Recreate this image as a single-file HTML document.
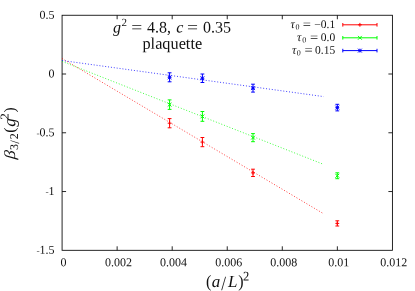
<!DOCTYPE html>
<html><head><meta charset="utf-8"><title>plot</title>
<style>html,body{margin:0;padding:0;background:#fff;}svg{display:block;will-change:transform;}text{font-family:"Liberation Serif",serif;fill:#111;}</style></head>
<body>
<svg width="415" height="291" viewBox="0 0 415 291">
<rect width="415" height="291" fill="#fff"/>
<g stroke="#000" stroke-width="0.85" fill="none">
<rect x="62.08" y="15.25" width="330.32" height="235.05"/>
<path d="M117.13 250.3 v-4 M117.13 15.25 v4"/>
<path d="M172.19 250.3 v-4 M172.19 15.25 v4"/>
<path d="M227.24 250.3 v-4 M227.24 15.25 v4"/>
<path d="M282.29 250.3 v-4 M282.29 15.25 v4"/>
<path d="M337.35 250.3 v-4 M337.35 15.25 v4"/>
<path d="M62.08 74.01 h4 M392.4 74.01 h-4"/>
<path d="M62.08 132.78 h4 M392.4 132.78 h-4"/>
<path d="M62.08 191.54 h4 M392.4 191.54 h-4"/>
</g>
<text transform="translate(54.60,18.65) rotate(0.05)" font-size="12px" text-anchor="end">0.5</text>
<text transform="translate(54.60,77.41) rotate(0.05)" font-size="12px" text-anchor="end">0</text>
<text transform="translate(54.60,136.18) rotate(0.05)" font-size="12px" text-anchor="end"><tspan font-size="9.5px">-</tspan>0.5</text>
<text transform="translate(54.60,194.94) rotate(0.05)" font-size="12px" text-anchor="end"><tspan font-size="9.5px">-</tspan>1</text>
<text transform="translate(54.60,253.70) rotate(0.05)" font-size="12px" text-anchor="end"><tspan font-size="9.5px">-</tspan>1.5</text>
<text transform="translate(63.48,266.20) rotate(0.05)" font-size="12px" text-anchor="middle">0</text>
<text transform="translate(118.53,266.20) rotate(0.05)" font-size="12px" text-anchor="middle">0.002</text>
<text transform="translate(173.59,266.20) rotate(0.05)" font-size="12px" text-anchor="middle">0.004</text>
<text transform="translate(228.64,266.20) rotate(0.05)" font-size="12px" text-anchor="middle">0.006</text>
<text transform="translate(283.69,266.20) rotate(0.05)" font-size="12px" text-anchor="middle">0.008</text>
<text transform="translate(338.75,266.20) rotate(0.05)" font-size="12px" text-anchor="middle">0.01</text>
<text transform="translate(393.80,266.20) rotate(0.05)" font-size="12px" text-anchor="middle">0.012</text>
<line x1="62.08" y1="58.5" x2="323.7" y2="213.8" stroke="#ff0000" stroke-width="0.75" stroke-dasharray="1.0 1.9" fill="none"/>
<line x1="62.08" y1="61.4" x2="323.7" y2="164.4" stroke="#00ff00" stroke-width="0.75" stroke-dasharray="1.0 1.9" fill="none"/>
<line x1="62.08" y1="60.5" x2="323.7" y2="96.6" stroke="#0000ff" stroke-width="0.75" stroke-dasharray="1.0 1.9" fill="none"/>
<path d="M169.6 118.60 V127.80 M167.7 118.60 h3.8 M167.7 127.80 h3.8" stroke="#ff0000" stroke-width="1" fill="none"/>
<path d="M167.70 123.20 h3.8 M169.60 121.30 v3.8 " stroke="#ff0000" stroke-width="1" fill="none"/>
<path d="M202.4 137.50 V146.70 M200.5 137.50 h3.8 M200.5 146.70 h3.8" stroke="#ff0000" stroke-width="1" fill="none"/>
<path d="M200.50 142.10 h3.8 M202.40 140.20 v3.8 " stroke="#ff0000" stroke-width="1" fill="none"/>
<path d="M253 169.20 V176.50 M251.1 169.20 h3.8 M251.1 176.50 h3.8" stroke="#ff0000" stroke-width="1" fill="none"/>
<path d="M251.10 172.85 h3.8 M253.00 170.95 v3.8 " stroke="#ff0000" stroke-width="1" fill="none"/>
<path d="M337.3 220.80 V226.00 M335.40000000000003 220.80 h3.8 M335.40000000000003 226.00 h3.8" stroke="#ff0000" stroke-width="1" fill="none"/>
<path d="M335.40 223.40 h3.8 M337.30 221.50 v3.8 " stroke="#ff0000" stroke-width="1" fill="none"/>
<path d="M169.6 99.90 V109.40 M167.7 99.90 h3.8 M167.7 109.40 h3.8" stroke="#00ff00" stroke-width="1" fill="none"/>
<path d="M167.70 102.75 l3.8 3.8 M167.70 106.55 l3.8 -3.8 " stroke="#00ff00" stroke-width="1" fill="none"/>
<path d="M202.4 111.50 V121.30 M200.5 111.50 h3.8 M200.5 121.30 h3.8" stroke="#00ff00" stroke-width="1" fill="none"/>
<path d="M200.50 114.50 l3.8 3.8 M200.50 118.30 l3.8 -3.8 " stroke="#00ff00" stroke-width="1" fill="none"/>
<path d="M253 133.60 V141.70 M251.1 133.60 h3.8 M251.1 141.70 h3.8" stroke="#00ff00" stroke-width="1" fill="none"/>
<path d="M251.10 135.75 l3.8 3.8 M251.10 139.55 l3.8 -3.8 " stroke="#00ff00" stroke-width="1" fill="none"/>
<path d="M337.3 172.80 V178.70 M335.40000000000003 172.80 h3.8 M335.40000000000003 178.70 h3.8" stroke="#00ff00" stroke-width="1" fill="none"/>
<path d="M335.40 173.85 l3.8 3.8 M335.40 177.65 l3.8 -3.8 " stroke="#00ff00" stroke-width="1" fill="none"/>
<path d="M169.6 72.80 V81.80 M167.7 72.80 h3.8 M167.7 81.80 h3.8" stroke="#0000ff" stroke-width="1" fill="none"/>
<path d="M167.70 77.30 h3.8 M169.60 75.40 v3.8 M167.70 75.40 l3.8 3.8 M167.70 79.20 l3.8 -3.8 " stroke="#0000ff" stroke-width="1" fill="none"/>
<path d="M202.4 74.00 V82.50 M200.5 74.00 h3.8 M200.5 82.50 h3.8" stroke="#0000ff" stroke-width="1" fill="none"/>
<path d="M200.50 78.25 h3.8 M202.40 76.35 v3.8 M200.50 76.35 l3.8 3.8 M200.50 80.15 l3.8 -3.8 " stroke="#0000ff" stroke-width="1" fill="none"/>
<path d="M253 84.20 V92.10 M251.1 84.20 h3.8 M251.1 92.10 h3.8" stroke="#0000ff" stroke-width="1" fill="none"/>
<path d="M251.10 88.15 h3.8 M253.00 86.25 v3.8 M251.10 86.25 l3.8 3.8 M251.10 90.05 l3.8 -3.8 " stroke="#0000ff" stroke-width="1" fill="none"/>
<path d="M337.3 104.30 V110.90 M335.40000000000003 104.30 h3.8 M335.40000000000003 110.90 h3.8" stroke="#0000ff" stroke-width="1" fill="none"/>
<path d="M335.40 107.60 h3.8 M337.30 105.70 v3.8 M335.40 105.70 l3.8 3.8 M335.40 109.50 l3.8 -3.8 " stroke="#0000ff" stroke-width="1" fill="none"/>
<path d="M342.8 24.8 H377 M342.8 23.0 v3.6 M377 23.0 v3.6" stroke="#ff0000" stroke-width="1" fill="none"/>
<path d="M358.00 24.80 h3.8 M359.90 22.90 v3.8 " stroke="#ff0000" stroke-width="1" fill="none"/>
<text transform="translate(290.40,28.00) rotate(0.05)" font-size="12px" font-style="italic">τ</text>
<text transform="translate(295.40,29.60) rotate(0.05)" font-size="8px">0</text>
<text transform="translate(302.65,28.00) rotate(0.05) scale(1.26,1)" font-size="11.5px">=</text>
<text transform="translate(335.20,28.00) rotate(0.05)" font-size="11.5px" text-anchor="end">−0.1</text>
<path d="M342.8 37.8 H377 M342.8 36.0 v3.6 M377 36.0 v3.6" stroke="#00ff00" stroke-width="1" fill="none"/>
<path d="M358.00 35.90 l3.8 3.8 M358.00 39.70 l3.8 -3.8 " stroke="#00ff00" stroke-width="1" fill="none"/>
<text transform="translate(296.90,41.00) rotate(0.05)" font-size="12px" font-style="italic">τ</text>
<text transform="translate(302.20,42.60) rotate(0.05)" font-size="8px">0</text>
<text transform="translate(309.95,41.00) rotate(0.05) scale(1.26,1)" font-size="11.5px">=</text>
<text transform="translate(335.20,41.00) rotate(0.05)" font-size="11.5px" text-anchor="end">0.0</text>
<path d="M342.8 50.6 H377 M342.8 48.800000000000004 v3.6 M377 48.800000000000004 v3.6" stroke="#0000ff" stroke-width="1" fill="none"/>
<path d="M358.00 50.60 h3.8 M359.90 48.70 v3.8 M358.00 48.70 l3.8 3.8 M358.00 52.50 l3.8 -3.8 " stroke="#0000ff" stroke-width="1" fill="none"/>
<text transform="translate(291.90,53.80) rotate(0.05)" font-size="12px" font-style="italic">τ</text>
<text transform="translate(296.80,55.40) rotate(0.05)" font-size="8px">0</text>
<text transform="translate(304.45,53.80) rotate(0.05) scale(1.26,1)" font-size="11.5px">=</text>
<text transform="translate(335.20,53.80) rotate(0.05)" font-size="11.5px" text-anchor="end">0.15</text>
<text transform="translate(113.10,32.40) rotate(0.05)" font-size="16px" font-style="italic">g</text>
<text transform="translate(121.40,26.10) rotate(0.05)" font-size="11px">2</text>
<text transform="translate(131.15,32.40) rotate(0.05) scale(1.22,1)" font-size="16px">=</text>
<text transform="translate(147.00,32.40) rotate(0.05)" font-size="16px">4.8,</text>
<text transform="translate(176.30,32.40) rotate(0.05)" font-size="16px" font-style="italic">c</text>
<text transform="translate(186.95,32.40) rotate(0.05) scale(1.22,1)" font-size="16px">=</text>
<text transform="translate(203.00,32.40) rotate(0.05)" font-size="16px">0.35</text>
<text transform="translate(172.30,48.70) rotate(0.05)" font-size="16.3px" text-anchor="middle">plaquette</text>
<text transform="translate(206.00,287.10) rotate(0.05) scale(1,1.09)" font-size="16px">(</text>
<text transform="translate(211.70,287.00) rotate(0.05)" font-size="17px" font-style="italic">a</text>
<text transform="translate(221.30,290.10) rotate(0.05) scale(0.85,1)" font-size="20px">/</text>
<text transform="translate(228.10,287.00) rotate(0.05)" font-size="17px" font-style="italic">L</text>
<text transform="translate(238.20,287.10) rotate(0.05) scale(1,1.09)" font-size="16px">)</text>
<text transform="translate(243.00,280.40) rotate(0.05) scale(1,1.06)" font-size="12.5px">2</text>
<text transform="translate(15.10,159.60) rotate(-90.05) skewX(-5) scale(1.15,1)" font-size="15.5px" font-style="italic">β</text>
<text transform="translate(18.00,150.00) rotate(-90.05)" font-size="12px">3</text>
<text transform="translate(18.90,143.70) rotate(-90.05)" font-size="13px">/</text>
<text transform="translate(18.00,139.20) rotate(-90.05)" font-size="12px">2</text>
<text transform="translate(14.80,132.70) rotate(-90.05)" font-size="15.7px">(</text>
<text transform="translate(15.30,126.70) rotate(-90.05)" font-size="17px" font-style="italic">g</text>
<text transform="translate(8.50,119.80) rotate(-90.05) scale(1.1,1)" font-size="12px">2</text>
<text transform="translate(14.80,112.40) rotate(-90.05)" font-size="15.7px">)</text>
</svg>
</body></html>
